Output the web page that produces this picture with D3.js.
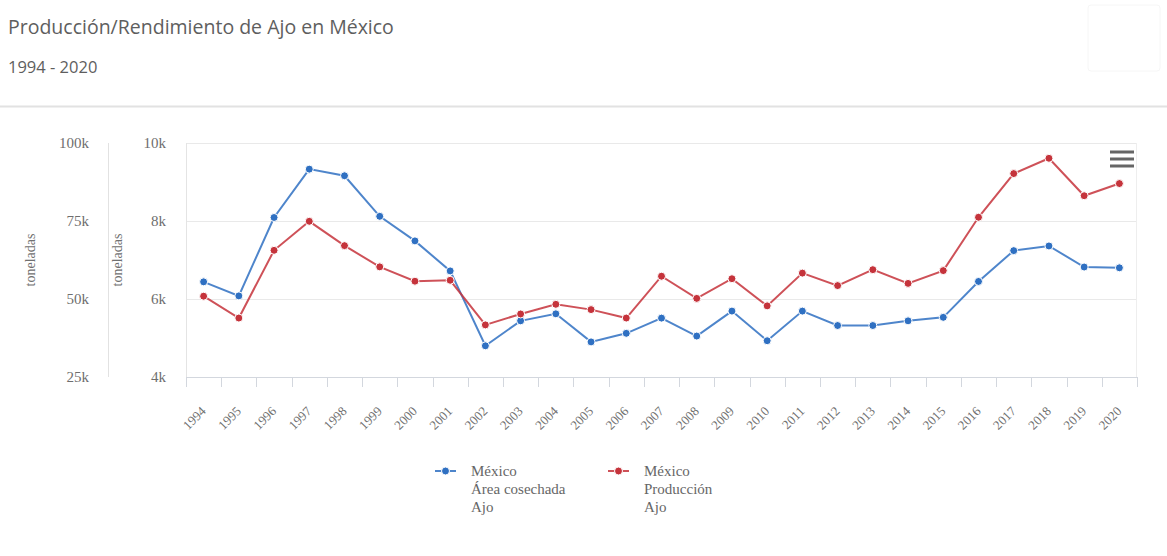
<!DOCTYPE html>
<html>
<head>
<meta charset="utf-8">
<script src="https://cdn.jsdelivr.net/npm/d3@7"></script>
<style>
  body { margin: 0; background: #fff; }
</style>
</head>
<body>
<div id="chart"></div>
<script>
// data
var years = ["1994", "1995", "1996", "1997", "1998", "1999", "2000", "2001", "2002", "2003",
  "2004", "2005", "2006", "2007", "2008", "2009", "2010", "2011", "2012", "2013",
  "2014", "2015", "2016", "2017", "2018", "2019", "2020"];

// Área cosechada (inner axis, 4k - 10k)
var areaCosechada = [6440, 6080, 8090, 9330, 9160, 8120, 7490, 6720, 4800, 5440,
  5620, 4900, 5120, 5510, 5050, 5690, 4930, 5690, 5320, 5320,
  5440, 5530, 6450, 7240, 7360, 6820, 6800];

// Producción (outer axis, 25k - 100k)
var produccion = [50900, 43900, 65600, 74900, 67100, 60300, 55700, 56000, 41700, 45200,
  48300, 46600, 43900, 57300, 50200, 56500, 47800, 58300, 54300, 59400,
  55000, 59100, 76200, 90200, 95100, 83100, 87000];

var ticksProduccion = [25000, 50000, 75000, 100000];
var ticksArea = [4000, 6000, 8000, 10000];

var legendArea = ["México", "Área cosechada", "Ajo"];
var legendProd = ["México", "Producción", "Ajo"];

var svgWidth = 1167;
var svgHeight = 556;

var plot = { left: 186, right: 1137, top: 143, bottom: 377 };

var blue = "#2f70c2";
var red = "#c5333b";
var serif = "'Liberation Serif', 'Times New Roman', serif";

var svg = d3.select("#chart")
  .append("svg")
  .attr("width", svgWidth)
  .attr("height", svgHeight)
  .style("display", "block");

// title + subtitle
svg.append("text")
  .attr("x", 8)
  .attr("y", 34)
  .attr("font-family", "'Open Sans', sans-serif")
  .attr("font-size", "19.5px")
  .attr("fill", "#5e5e5e")
  .text("Producción/Rendimiento de Ajo en México");

svg.append("text")
  .attr("x", 8)
  .attr("y", 73)
  .attr("font-family", "'Open Sans', sans-serif")
  .attr("font-size", "16.5px")
  .attr("fill", "#5e5e5e")
  .text("1994 - 2020");

// faint box top right
svg.append("rect")
  .attr("x", 1088)
  .attr("y", 5)
  .attr("width", 72)
  .attr("height", 66)
  .attr("rx", 3)
  .attr("fill", "#fff")
  .attr("stroke", "#f6f6f6");

svg.append("line")
  .attr("x1", 0)
  .attr("x2", svgWidth)
  .attr("y1", 106.5)
  .attr("y2", 106.5)
  .attr("stroke", "#e2e2e2")
  .attr("stroke-width", 2);

// scales
var xScale = d3.scaleBand()
  .domain(years)
  .range([plot.left, plot.right])
  .padding(0);

var yArea = d3.scaleLinear()
  .domain([4000, 10000])
  .range([plot.bottom, plot.top]);

var yProd = d3.scaleLinear()
  .domain([25000, 100000])
  .range([plot.bottom, plot.top]);

// gridlines
svg.append("g")
  .selectAll("line")
  .data(ticksArea)
  .enter()
  .append("line")
  .attr("x1", plot.left)
  .attr("x2", plot.right)
  .attr("y1", d => Math.round(yArea(d)) + 0.5)
  .attr("y2", d => Math.round(yArea(d)) + 0.5)
  .attr("stroke", "#e9e9e9");

// plot frame sides
svg.append("line")
  .attr("x1", plot.left + 0.5).attr("x2", plot.left + 0.5)
  .attr("y1", plot.top).attr("y2", plot.bottom)
  .attr("stroke", "#e4e4e4");
svg.append("line")
  .attr("x1", plot.right - 0.5).attr("x2", plot.right - 0.5)
  .attr("y1", plot.top).attr("y2", plot.bottom)
  .attr("stroke", "#eeeeee");

// outer axis line
svg.append("line")
  .attr("x1", 108.5).attr("x2", 108.5)
  .attr("y1", plot.top).attr("y2", plot.bottom)
  .attr("stroke", "#e2e2e2");

// y axes
var kFormat = d => (d / 1000) + "k";

var leftAxis = svg.append("g")
  .attr("transform", "translate(89, 0)")
  .call(d3.axisLeft(yProd).tickValues(ticksProduccion).tickFormat(kFormat).tickSize(0).tickPadding(0));

var innerAxis = svg.append("g")
  .attr("transform", "translate(166, 0)")
  .call(d3.axisLeft(yArea).tickValues(ticksArea).tickFormat(kFormat).tickSize(0).tickPadding(0));

[leftAxis, innerAxis].forEach(function(ax) {
  ax.select(".domain").remove();
  ax.selectAll("text")
    .attr("font-family", serif)
    .attr("font-size", "15px")
    .attr("fill", "#6e6e6e");
});

// axis titles
[35, 122].forEach(function(x) {
  svg.append("text")
    .attr("transform", `translate(${x}, ${(plot.top + plot.bottom) / 2}) rotate(-90)`)
    .attr("text-anchor", "middle")
    .attr("font-family", serif)
    .attr("font-size", "14px")
    .attr("fill", "#707070")
    .text("toneladas");
});

// x axis
svg.append("line")
  .attr("x1", plot.left).attr("x2", plot.right)
  .attr("y1", plot.bottom + 0.5).attr("y2", plot.bottom + 0.5)
  .attr("stroke", "#d3d7de");

var tickPos = years.map(d => xScale(d)).concat([plot.right]);
svg.append("g")
  .selectAll("line")
  .data(tickPos)
  .enter()
  .append("line")
  .attr("x1", d => Math.round(d) + 0.5)
  .attr("x2", d => Math.round(d) + 0.5)
  .attr("y1", plot.bottom)
  .attr("y2", plot.bottom + 10)
  .attr("stroke", "#d3d7de");

var xAxis = svg.append("g")
  .attr("transform", `translate(0, ${plot.bottom})`)
  .call(d3.axisBottom(xScale).tickSize(0));

xAxis.select(".domain").remove();
xAxis.selectAll("text")
  .attr("x", 0)
  .attr("y", 0)
  .attr("dy", 0)
  .attr("text-anchor", "end")
  .attr("transform", "translate(3, 35) rotate(-45)")
  .attr("font-family", serif)
  .attr("font-size", "13px")
  .attr("fill", "#707070");

// series
var series = [
  { values: areaCosechada, y: yArea, color: blue },
  { values: produccion, y: yProd, color: red }
];

series.forEach(function(s) {
  var line = d3.line()
    .x((d, i) => xScale(years[i]) + xScale.bandwidth() / 2)
    .y(d => s.y(d));

  svg.append("path")
    .datum(s.values)
    .attr("d", line)
    .attr("fill", "none")
    .attr("stroke", s.color)
    .attr("stroke-width", 2)
    .attr("stroke-opacity", 0.85);

  svg.append("g")
    .selectAll("circle")
    .data(s.values)
    .enter()
    .append("circle")
    .attr("cx", (d, i) => xScale(years[i]) + xScale.bandwidth() / 2)
    .attr("cy", d => s.y(d))
    .attr("r", 4)
    .attr("fill", s.color)
    .attr("stroke", "#fff")
    .attr("stroke-width", 1);
});

// hamburger menu
svg.append("g")
  .selectAll("rect")
  .data([0, 1, 2])
  .enter()
  .append("rect")
  .attr("x", 1110)
  .attr("y", d => 150.5 + d * 7)
  .attr("width", 24)
  .attr("height", 3)
  .attr("fill", "#666");

// legend
var legendItems = [
  { x: 435, color: blue, lines: legendArea },
  { x: 608, color: red, lines: legendProd }
];

legendItems.forEach(function(item) {
  var g = svg.append("g")
    .attr("transform", `translate(${item.x}, 471)`);

  g.append("line")
    .attr("x1", 0).attr("x2", 21)
    .attr("y1", 0).attr("y2", 0)
    .attr("stroke", item.color)
    .attr("stroke-width", 2)
    .attr("stroke-opacity", 0.85);

  g.append("circle")
    .attr("cx", 10.5)
    .attr("cy", 0)
    .attr("r", 4)
    .attr("fill", item.color)
    .attr("stroke", "#fff")
    .attr("stroke-width", 1);

  var txt = g.append("text")
    .attr("font-family", serif)
    .attr("font-size", "15px")
    .attr("fill", "#666");

  txt.selectAll("tspan")
    .data(item.lines)
    .enter()
    .append("tspan")
    .attr("x", 36)
    .attr("y", (d, i) => 5 + i * 18)
    .text(d => d);
});
</script>
</body>
</html>
